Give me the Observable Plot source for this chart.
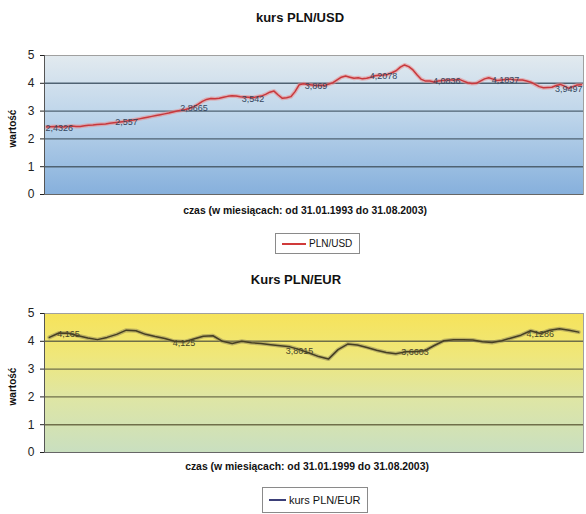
<!DOCTYPE html>
<html><head><meta charset="utf-8">
<script src="https://cdn.jsdelivr.net/npm/d3@7"></script>
<script src="https://cdn.jsdelivr.net/npm/@observablehq/plot@0.6"></script>
<style>
body{margin:0;background:#fff;font-family:"Liberation Sans",Arial,sans-serif;color:#111;}
#wrap{position:relative;width:586px;height:514px;overflow:hidden;}
.abs{position:absolute;white-space:nowrap;}
.title{font-weight:bold;font-size:13px;text-align:center;width:300px;}
.xt{font-weight:bold;font-size:10.4px;text-align:center;width:320px;}
.yt{font-weight:bold;font-size:10px;transform:rotate(-90deg);transform-origin:center;width:60px;text-align:center;}
.leg{border:1px solid #8a8a8a;background:#fff;box-sizing:border-box;display:flex;align-items:center;}
.leg span.ln{display:inline-block;height:2px;margin:0 3px 0 6px;}
</style>
</head><body>
<div id="wrap"></div>
<script>
// ---------- data ----------
const usdStart = "1993-01";
const usdValues = [2.43,2.44,2.45,2.44,2.43,2.45,2.46,2.45,2.45,2.47,2.49,2.50,2.52,2.53,2.54,2.56,
2.58,2.60,2.62,2.64,2.66,2.69,2.72,2.75,2.78,2.81,2.84,2.87,2.90,2.93,2.97,3.00,
3.03,3.06,3.10,3.16,3.25,3.35,3.42,3.45,3.44,3.46,3.50,3.53,3.55,3.54,3.52,3.51,
3.50,3.48,3.52,3.54,3.60,3.68,3.72,3.58,3.46,3.48,3.52,3.70,3.95,3.98,3.96,3.94,
3.92,3.93,3.92,3.97,4.02,4.12,4.22,4.26,4.22,4.18,4.20,4.16,4.18,4.22,4.27,4.29,
4.30,4.32,4.38,4.45,4.58,4.66,4.60,4.48,4.30,4.14,4.08,4.08,4.05,4.08,4.10,4.12,
4.12,4.12,4.14,4.08,4.02,3.99,4.00,4.08,4.16,4.20,4.15,4.10,4.12,4.14,4.15,4.13,
4.12,4.12,4.08,4.04,3.96,3.88,3.84,3.85,3.86,3.92,3.96,3.90,3.82,3.88,3.94,3.95];
const usdLabelIdx = [3,19,35,49,64,80,95,109,124];
const usdLabelText = ["2,4326","2,557","2,8665","3,542","3,869","4,2078","4,0836","4,1837","3,9497"];

const eurStart = "1999-01";
const eurValues = [4.14,4.30,4.29,4.20,4.12,4.06,4.14,4.25,4.40,4.38,4.25,4.17,4.10,4.00,
3.98,4.08,4.18,4.20,4.00,3.92,4.00,3.95,3.92,3.88,3.84,3.80,3.70,3.58,
3.45,3.36,3.70,3.90,3.87,3.78,3.68,3.60,3.55,3.62,3.63,3.66,3.85,4.02,
4.06,4.06,4.05,3.98,3.96,4.02,4.12,4.22,4.38,4.28,4.40,4.45,4.40,4.33];
const eurLabelIdx = [2,14,26,38,51];
const eurLabelText = ["4,165","4,125","3,8015","3,6603","4,1286"];

const yTicks = [0,1,2,3,4,5];

// ---------- helpers ----------
const wrap = document.getElementById("wrap");
function put(html, cls, left, top, extra) {
  const d = document.createElement("div");
  d.className = "abs " + cls;
  d.style.left = left + "px"; d.style.top = top + "px";
  if (extra) Object.assign(d.style, extra);
  d.innerHTML = html;
  wrap.appendChild(d);
  return d;
}

function makeChart(values, cfg) {
  const data = values.map((v, i) => ({i, v}));
  const labels = cfg.labelIdx.map((idx, k) => ({i: idx, v: values[idx], t: cfg.labelText[k]}));
  const svg = Plot.plot({
    width: 586, height: 160,
    marginLeft: 44, marginRight: 3, marginTop: 15, marginBottom: 6,
    x: {domain: [-0.5, values.length - 0.5], axis: null},
    y: {domain: [0, 5], ticks: 5, label: null, tickSize: 4, tickPadding: 6},
    style: {fontFamily: "Liberation Sans, Arial, sans-serif", fontSize: "12px", color: "#222", background: "transparent", overflow: "visible"},
    marks: [
      Plot.frame({fill: `url(#${cfg.gid})`, stroke: "#a0a0a0"}),
      Plot.ruleY(yTicks.slice(1, 5), {stroke: cfg.grid, strokeWidth: 1.4}),
      Plot.line(data, {x: "i", y: "v", stroke: cfg.halo, strokeWidth: 4, strokeOpacity: 0.55}),
      Plot.line(data, {x: "i", y: "v", stroke: cfg.color, strokeWidth: 1.5}),
      Plot.text(labels, {x: "i", y: "v", text: "t", dy: 1, fontSize: 9, fill: cfg.labelColor}),
      Plot.ruleX([-0.5], {y1: 0, y2: 5, stroke: "#555"}),
      Plot.ruleY([0], {stroke: "#666"})
    ]
  });
  const ns = "http://www.w3.org/2000/svg";
  const defs = document.createElementNS(ns, "defs");
  defs.innerHTML = `<linearGradient id="${cfg.gid}" x1="0" y1="0" x2="0" y2="1">${cfg.stops.map(s => `<stop offset="${s[0]}" stop-color="${s[1]}"/>`).join("")}</linearGradient>`;
  svg.insertBefore(defs, svg.firstChild);
  svg.style.position = "absolute";
  svg.style.left = "0px";
  svg.style.top = cfg.top + "px";
  wrap.appendChild(svg);
}

// ---------- chart 1 ----------
put("kurs PLN/USD", "title", 150, 10);
makeChart(usdValues, {
  gid: "gUSD", top: 40,
  stops: [[0, "#e2eaef"], [0.45, "#bcd4ea"], [1, "#86b0dc"]],
  grid: "#4f6272", color: "#c8383c", halo: "#e98a8a", labelColor: "#34465e",
  labelIdx: usdLabelIdx, labelText: usdLabelText
});
put("wartość", "yt", -18, 123);
put("czas (w miesiącach: od 31.01.1993 do 31.08.2003)", "xt", 145, 205);
put('<span class="ln" style="width:24px;background:#d03a3a"></span><span style="font-size:10px">PLN/USD</span>', "leg", 275, 233, {width: "85px", height: "21px"});

// ---------- chart 2 ----------
put("Kurs PLN/EUR", "title", 146, 272);
makeChart(eurValues, {
  gid: "gEUR", top: 298,
  stops: [[0, "#f6e35a"], [0.3, "#efe77a"], [0.6, "#dfe6a4"], [1, "#c9dfc0"]],
  grid: "#6f6f4a", color: "#463f24", halo: "#8f865a", labelColor: "#474428",
  labelIdx: eurLabelIdx, labelText: eurLabelText
});
put("wartość", "yt", -18, 381);
put("czas (w miesiącach: od 31.01.1999 do 31.08.2003)", "xt", 147, 461);
put('<span class="ln" style="width:17px;background:#3b3f78"></span><span style="font-size:11px">kurs PLN/EUR</span>', "leg", 262, 487, {width: "106px", height: "26px"});
</script>
</body></html>
